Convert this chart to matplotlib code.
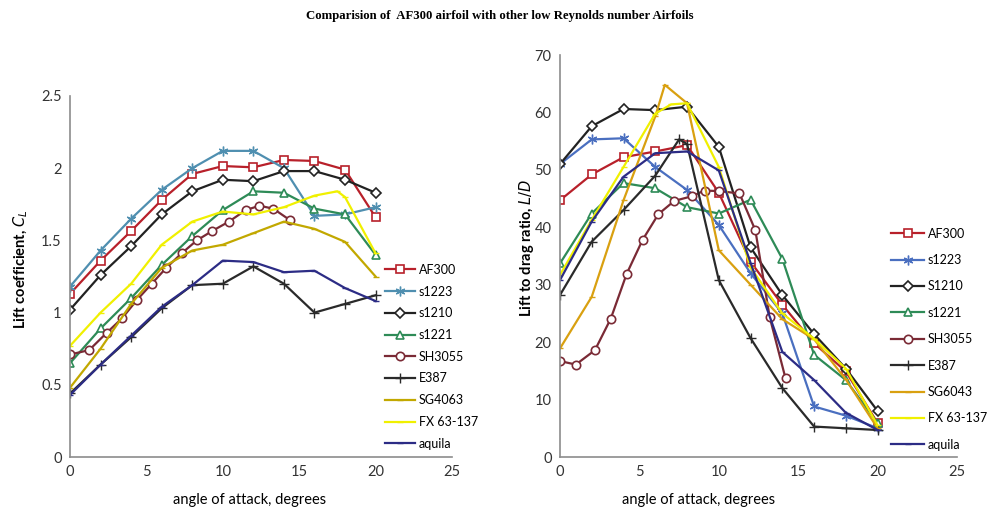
import matplotlib
matplotlib.use("Agg")
import matplotlib.pyplot as plt

plt.rcParams['font.family'] = ['Lato', 'DejaVu Sans']

# ---------------- Left plot: lift coefficient ----------------
aoa = [0, 2, 4, 6, 8, 10, 12, 14, 16, 18, 20]
cl_af300 = [1.13, 1.36, 1.565, 1.78, 1.96, 2.015, 2.006, 2.057, 2.05, 1.99, 1.66]
cl_s1223 = [1.18, 1.43, 1.65, 1.85, 2.0, 2.12, 2.12, 2.0, 1.67, 1.68, 1.73]
cl_s1210 = [1.02, 1.26, 1.46, 1.68, 1.84, 1.92, 1.91, 1.98, 1.98, 1.92, 1.83]
cl_s1221 = [0.65, 0.89, 1.10, 1.33, 1.53, 1.71, 1.84, 1.83, 1.72, 1.68, 1.40]
aoa_sh3055_cl = [0, 1.25, 2.4, 3.4, 4.4, 5.35, 6.3, 7.3, 8.3, 9.3, 10.4, 11.5, 12.4, 13.3, 14.4]
cl_sh3055 = [0.71, 0.74, 0.86, 0.96, 1.09, 1.20, 1.31, 1.41, 1.50, 1.565, 1.63, 1.71, 1.74, 1.72, 1.64]
cl_e387 = [0.44, 0.64, 0.83, 1.03, 1.19, 1.20, 1.32, 1.20, 1.00, 1.06, 1.12]
cl_sg4063 = [0.48, 0.75, 1.06, 1.31, 1.43, 1.47, 1.55, 1.63, 1.58, 1.49, 1.25]
aoa_fx_cl = [0, 2, 4, 6, 8, 10, 12, 14, 16, 17.5, 18, 20]
cl_fx63 = [0.77, 1.0, 1.20, 1.47, 1.63, 1.70, 1.68, 1.73, 1.81, 1.84, 1.80, 1.41]
cl_aquila = [0.43, 0.64, 0.84, 1.04, 1.19, 1.36, 1.35, 1.28, 1.29, 1.17, 1.08]

# ---------------- Right plot: lift to drag ratio ----------------
ld_s1210 = [51.0, 57.6, 60.6, 60.4, 61.0, 54.0, 36.5, 28.2, 21.4, 15.4, 8.0]
ld_s1223 = [51.0, 55.3, 55.5, 50.5, 46.5, 40.4, 32.0, 25.0, 8.8, 7.2, 5.0]
ld_af300 = [44.7, 49.2, 52.2, 53.2, 54.3, 46.0, 34.0, 26.5, 19.8, 14.9, 5.9]
ld_s1221 = [33.7, 42.4, 47.7, 46.8, 43.5, 42.4, 44.8, 34.5, 17.8, 13.4, 5.9]
aoa_sh3055_ld = [0, 1, 2.2, 3.2, 4.2, 5.2, 6.2, 7.2, 8.3, 9.1, 10, 11.3, 12.3, 13.2, 14.2]
ld_sh3055 = [16.7, 16.1, 18.6, 24.1, 31.9, 37.8, 42.3, 44.6, 45.4, 46.4, 46.3, 45.9, 39.5, 24.4, 13.7]
aoa_e387_ld = [0, 2, 4, 6, 7.5, 8, 10, 12, 14, 16, 18, 20]
ld_e387 = [28.2, 37.5, 43.0, 49.0, 55.3, 54.5, 30.8, 20.7, 12.0, 5.3, 5.0, 4.7]
aoa_sg_ld = [0, 2, 4, 6, 6.6, 8, 10, 12, 14, 16, 18, 20]
ld_sg6043 = [18.9, 27.9, 44.7, 59.3, 64.8, 61.6, 36.0, 30.0, 24.0, 20.5, 13.5, 5.0]
aoa_fx_ld = [0, 2, 4, 6, 7, 8, 10, 12, 14, 16, 18, 20]
ld_fx63 = [31.7, 41.3, 50.5, 59.8, 61.4, 61.6, 50.5, 33.0, 25.0, 20.6, 15.4, 5.5]
ld_aquila = [30.8, 41.0, 48.8, 52.9, 53.2, 49.9, 33.8, 18.3, 13.4, 7.7, 4.7]

fig = plt.figure(figsize=(9.89, 5.15), dpi=100)
ax1 = fig.add_axes([0.0708, 0.1126, 0.3862, 0.701])
ax2 = fig.add_axes([0.5662, 0.1126, 0.4015, 0.7806])

lw = 1.6
hollow = dict(markerfacecolor='white', markeredgewidth=1.2)

def style(ax):
    for s in ['top', 'right']:
        ax.spines[s].set_visible(False)
    for s in ['left', 'bottom']:
        ax.spines[s].set_color('#8c8c8c')
        ax.spines[s].set_linewidth(1.2)
    ax.tick_params(length=0, labelsize=10.5, colors='#333333', pad=6)
    ax.set_xlim(0, 25)
    ax.set_xticks([0, 5, 10, 15, 20, 25])

# ---- left ----
ax1.plot(aoa, cl_af300, color='#b8202a', lw=lw, marker='s', ms=6, label='AF300', **hollow)
ax1.plot(aoa, cl_s1223, color='#4f8fb0', lw=lw, marker=(6, 2, 0), ms=7, label='s1223')
ax1.plot(aoa, cl_s1210, color='#222222', lw=lw, marker='D', ms=5, label='s1210', **hollow)
ax1.plot(aoa, cl_s1221, color='#2e8b57', lw=lw, marker='^', ms=6, label='s1221', **hollow)
ax1.plot(aoa_sh3055_cl, cl_sh3055, color='#7a2a35', lw=lw, marker='o', ms=6, label='SH3055', **hollow)
ax1.plot(aoa, cl_e387, color='#2a2a2a', lw=lw, marker='+', ms=7, label='E387')
ax1.plot(aoa, cl_sg4063, color='#c2a800', lw=lw, marker='_', ms=5, label='SG4063')
ax1.plot(aoa_fx_cl, cl_fx63, color='#f0f000', lw=lw, marker='_', ms=5, label='FX 63-137')
ax1.plot(aoa, cl_aquila, color='#2c2c85', lw=lw, marker='_', ms=5, label='aquila')
style(ax1)
ax1.set_ylim(0, 2.5)
ax1.set_yticks([0, 0.5, 1, 1.5, 2, 2.5])
ax1.set_yticklabels(['0', '0.5', '1', '1.5', '2', '2.5'])
ax1.set_xlabel('angle of attack, degrees', fontsize=10.5)
ax1.xaxis.set_label_coords(0.47, -0.1)
ax1.set_ylabel('Lift coefficient, $C_L$', fontsize=10.5, fontweight='bold')
ax1.yaxis.set_label_coords(-0.105, 0.52)
ax1.legend(loc='upper left', bbox_to_anchor=(0.383, 0.5), bbox_transform=fig.transFigure,
           frameon=False, fontsize=9, handlelength=2.4, labelspacing=0.78,
           handletextpad=0.3, borderpad=0)

# ---- right ----
ax2.plot(aoa, ld_af300, color='#b8202a', lw=lw, marker='s', ms=6, label='AF300', **hollow)
ax2.plot(aoa, ld_s1223, color='#4a6fc0', lw=lw, marker=(6, 2, 0), ms=7, label='s1223')
ax2.plot(aoa, ld_s1210, color='#222222', lw=lw, marker='D', ms=5, label='S1210', **hollow)
ax2.plot(aoa, ld_s1221, color='#2e8b57', lw=lw, marker='^', ms=6, label='s1221', **hollow)
ax2.plot(aoa_sh3055_ld, ld_sh3055, color='#7a2a35', lw=lw, marker='o', ms=6, label='SH3055', **hollow)
ax2.plot(aoa_e387_ld, ld_e387, color='#2a2a2a', lw=lw, marker='+', ms=7, label='E387')
ax2.plot(aoa_sg_ld, ld_sg6043, color='#d9a010', lw=lw, marker='_', ms=5, label='SG6043')
ax2.plot(aoa_fx_ld, ld_fx63, color='#f0f000', lw=lw, marker='_', ms=5, label='FX 63-137')
ax2.plot(aoa, ld_aquila, color='#2c2c85', lw=lw, marker='_', ms=5, label='aquila')
style(ax2)
ax2.set_ylim(0, 70)
ax2.set_yticks(range(0, 71, 10))
ax2.set_xlabel('angle of attack, degrees', fontsize=10.5)
ax2.xaxis.set_label_coords(0.35, -0.09)
ax2.set_ylabel('Lift to drag ratio, $L/D$', fontsize=10.5, fontweight='bold')
ax2.yaxis.set_label_coords(-0.06, 0.52)
ax2.legend(loc='upper left', bbox_to_anchor=(0.895, 0.57), bbox_transform=fig.transFigure,
           frameon=False, fontsize=9, handlelength=2.6, labelspacing=1.15,
           handletextpad=0.3, borderpad=0)

fig.text(0.505, 0.968, 'Comparision of  AF300 airfoil with other low Reynolds number Airfoils',
         ha='center', va='center', fontsize=9.2, fontweight='bold', family='Liberation Serif')

fig.savefig('out.png', dpi=100, facecolor='white')
